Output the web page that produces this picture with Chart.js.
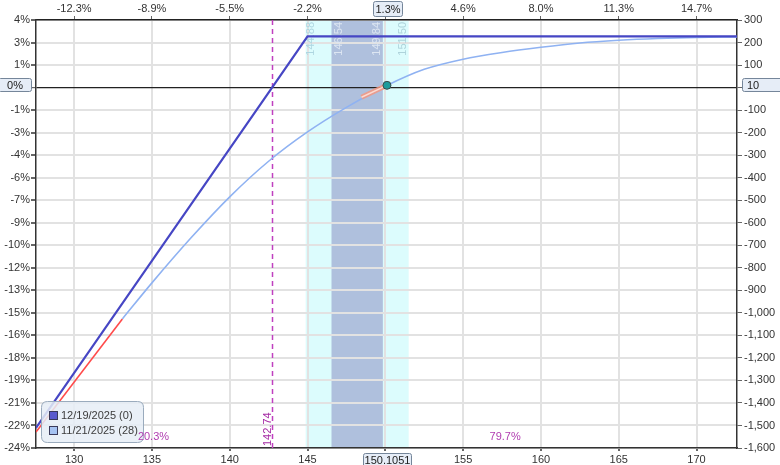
<!DOCTYPE html>
<html lang="en">
<head>
<meta charset="UTF-8">
<meta name="viewport" content="width=device-width, initial-scale=1.0">
<script src="https://cdn.jsdelivr.net/npm/chart.js@4.4.1/dist/chart.umd.min.js"></script>
<title>Risk graph</title>
<style>
  body { margin: 0; background: #fff; }
  canvas { display: block; }
</style>
</head>
<body>
<canvas id="risk-chart" width="780" height="465"></canvas>

<script>

// axis ticks
var xTicks = [130, 135, 140, 145, 150, 155, 160, 165, 170];
var topTickLabels = ['-12.3%', '-8.9%', '-5.5%', '-2.2%', '1.2%', '4.6%', '8.0%', '11.3%', '14.7%'];
var yTicks = [300, 200, 100, 0, -100, -200, -300, -400, -500, -600, -700, -800, -900, -1000, -1100, -1200, -1300, -1400, -1500, -1600];
var pctTickLabels = ['4%', '3%', '1%', '0%', '-1%', '-3%', '-4%', '-6%', '-7%', '-9%', '-10%', '-12%', '-13%', '-15%', '-16%', '-18%', '-19%', '-21%', '-22%', '-24%'];

// expiration line 12/19/2025
var expPrices = [127.55, 142.72, 145.0, 172.6];
var expPnl = [-1511, 0, 227, 227];

// T+0 line 11/21/2025
var t0Prices = [133.1, 135, 137.5, 140, 142.5, 145, 147.5, 150, 152.5, 155, 157.5, 160, 162.5, 165, 167.5, 170, 172.6];
var t0Pnl = [-1027, -867, -668, -485, -327, -197, -88, 6, 81, 126, 156, 179, 198, 210, 218, 223, 225];

// lower part of T+0 shown red
var lowPrices = [127.55, 133.1];
var lowPnl = [-1529, -1027];

// slope marker at current price
var slopePrices = [148.47, 150.1051];
var slopePnl = [-43, 10];

var legendLabels = ['12/19/2025 (0)', '11/21/2025 (28)'];
var currentPrice = 150.1051;
var currentPnl = 10;
var currentMove = '1.3%';
var currentPct = '0%';
var breakEven = 142.74;
var bandOuter = [144.88, 151.50];
var bandInner = [146.54, 149.84];
var probLabels = ['20.3%', '79.7%'];

var xMin = 127.55, xMax = 172.6;
var yMin = -1600, yMax = 300;

var FONT = 'Liberation Sans, Arial, sans-serif';

function pts(xs, ys) {
    return xs.map(function (v, i) { return { x: v, y: ys[i] }; });
}

function roundBox(c, x, y, w, h, r) {
    c.beginPath();
    c.moveTo(x + r, y);
    c.lineTo(x + w - r, y);
    c.quadraticCurveTo(x + w, y, x + w, y + r);
    c.lineTo(x + w, y + h - r);
    c.quadraticCurveTo(x + w, y + h, x + w - r, y + h);
    c.lineTo(x + r, y + h);
    c.quadraticCurveTo(x, y + h, x, y + h - r);
    c.lineTo(x, y + r);
    c.quadraticCurveTo(x, y, x + r, y);
    c.closePath();
}

function tagBox(c, x, y, w, h, text, align) {
    c.fillStyle = '#e6edf7';
    c.strokeStyle = '#75869a';
    c.lineWidth = 1;
    roundBox(c, x + 0.5, y + 0.5, w, h, 2);
    c.fill();
    c.stroke();
    c.fillStyle = '#222';
    c.textBaseline = 'middle';
    c.textAlign = align || 'center';
    var tx = align === 'left' ? x + 5 : x + w / 2 + 0.5;
    c.fillText(text, tx, y + h / 2 + 1);
}

var overlay = {
    id: 'overlay',
    beforeDraw: function (chart) {
        var c = chart.ctx, a = chart.chartArea, sx = chart.scales.x;
        c.save();
        var o0 = sx.getPixelForValue(bandOuter[0]), o1 = sx.getPixelForValue(bandOuter[1]);
        var i0 = sx.getPixelForValue(bandInner[0]), i1 = sx.getPixelForValue(bandInner[1]);
        c.fillStyle = '#dcfcfd';
        c.fillRect(o0, a.top, o1 - o0, a.bottom - a.top);
        c.fillStyle = '#afc0dd';
        c.fillRect(i0, a.top, i1 - i0, a.bottom - a.top);
        c.restore();
    },
    beforeDatasetsDraw: function (chart) {
        var c = chart.ctx, a = chart.chartArea, sx = chart.scales.x;
        c.save();
        // breakeven
        var bx = Math.round(sx.getPixelForValue(breakEven)) + 0.5;
        c.strokeStyle = '#c040c0';
        c.lineWidth = 1.5;
        c.setLineDash([5, 4]);
        c.beginPath();
        c.moveTo(bx, a.top);
        c.lineTo(bx, a.bottom);
        c.stroke();
        c.setLineDash([]);

        c.font = '11px ' + FONT;
        c.textBaseline = 'middle';

        c.fillStyle = '#a52ca5';
        c.save();
        c.translate(bx - 4.5, a.bottom - 2);
        c.rotate(-Math.PI / 2);
        c.textAlign = 'left';
        c.fillText(breakEven.toFixed(2), 0, 0);
        c.restore();

        // band edge labels
        var bandLabels = [
            [bandOuter[0], 5, '#aed6e1'],
            [bandInner[0], 7, '#dde6f2'],
            [bandInner[1], -6, '#dde6f2'],
            [bandOuter[1], -6, '#aed3db']
        ];
        bandLabels.forEach(function (b) {
            c.save();
            c.fillStyle = b[2];
            c.translate(sx.getPixelForValue(b[0]) + b[1], a.top + 2);
            c.rotate(-Math.PI / 2);
            c.textAlign = 'right';
            c.fillText(b[0].toFixed(2), 0, 0);
            c.restore();
        });
        c.restore();
    },
    afterDraw: function (chart) {
        var c = chart.ctx, a = chart.chartArea, sx = chart.scales.x, sy = chart.scales.y;
        c.save();
        c.font = '11px ' + FONT;
        var px = Math.round(sx.getPixelForValue(currentPrice));
        var py = Math.round(sy.getPixelForValue(currentPnl));

        tagBox(c, px - 14, 1, 29, 15, currentMove);
        tagBox(c, px - 24, a.bottom + 5, 48, 14, currentPrice.toFixed(4));
        tagBox(c, -2, py - 7, 33, 13, currentPct, 'center');
        tagBox(c, a.right + 5, py - 7, 40, 13, String(currentPnl), 'left');

        // legend
        c.fillStyle = 'rgba(230,237,246,0.85)';
        c.strokeStyle = '#9aabbd';
        c.lineWidth = 1;
        roundBox(c, 41.5, 401.5, 102, 41, 6);
        c.fill();
        c.stroke();
        var sw = ['#5a5acd', '#a6c3f2'];
        legendLabels.forEach(function (t, i) {
            var ly = 412 + i * 15;
            c.fillStyle = sw[i];
            c.fillRect(50, ly, 7, 7);
            c.strokeStyle = '#3a3a5a';
            c.strokeRect(49.5, ly - 0.5, 8, 8);
            c.fillStyle = '#3c3c3c';
            c.textAlign = 'left';
            c.textBaseline = 'middle';
            c.fillText(t, 61, ly + 4);
        });

        // probabilities
        c.fillStyle = '#b03cb0';
        c.textAlign = 'center';
        c.textBaseline = 'middle';
        c.fillText(probLabels[0], sx.getPixelForValue(135.1), a.bottom - 11);
        c.fillText(probLabels[1], sx.getPixelForValue(157.7), a.bottom - 11);
        c.restore();
    }
};

var tickFont = { family: FONT, size: 11 };

var ctx = document.getElementById('risk-chart').getContext('2d');

var chart = new Chart(ctx, {
    type: 'line',
    data: {
        datasets: [
            {
                data: pts([currentPrice], [currentPnl]),
                showLine: false,
                pointRadius: 4,
                pointBackgroundColor: '#1d9c9c',
                pointBorderColor: '#3c4c4c',
                pointBorderWidth: 1
            },
            {
                data: pts(slopePrices, slopePnl),
                borderColor: 'rgba(255,225,215,0.9)',
                borderWidth: 1.5,
                pointRadius: 0
            },
            {
                data: pts(slopePrices, slopePnl),
                borderColor: 'rgba(244,150,128,0.85)',
                borderWidth: 5,
                pointRadius: 0
            },
            {
                data: pts(expPrices, expPnl),
                borderColor: '#4646c4',
                borderWidth: 2.2,
                pointRadius: 0
            },
            {
                data: pts(t0Prices, t0Pnl),
                borderColor: '#8fb2f2',
                borderWidth: 1.6,
                pointRadius: 0,
                cubicInterpolationMode: 'monotone'
            },
            {
                data: pts(lowPrices, lowPnl),
                borderColor: '#ff4a4a',
                borderWidth: 1.6,
                pointRadius: 0
            }
        ]
    },
    options: {
        responsive: false,
        animation: false,
        layout: { padding: 0 },
        plugins: {
            legend: { display: false },
            tooltip: { enabled: false }
        },
        scales: {
            x: {
                type: 'linear',
                position: 'bottom',
                min: xMin,
                max: xMax,
                afterFit: function (s) { s.height = 17; },
                afterBuildTicks: function (s) { s.ticks = xTicks.map(function (v) { return { value: v }; }); },
                grid: { color: '#e2e2e2', lineWidth: 2, tickLength: 3, tickColor: '#666' },
                border: { color: '#333', width: 1.5 },
                ticks: { color: '#333', font: tickFont, padding: 2, maxRotation: 0, autoSkip: false }
            },
            xTop: {
                type: 'linear',
                position: 'top',
                min: xMin,
                max: xMax,
                afterFit: function (s) { s.height = 20; },
                afterBuildTicks: function (s) { s.ticks = xTicks.map(function (v) { return { value: v }; }); },
                grid: { drawOnChartArea: false, tickLength: 4, tickColor: '#666' },
                border: { color: '#222', width: 1.5 },
                ticks: {
                    color: '#333', font: tickFont, padding: 0, maxRotation: 0, autoSkip: false,
                    callback: function (v) { return topTickLabels[xTicks.indexOf(v)]; }
                }
            },
            y: {
                position: 'left',
                min: yMin,
                max: yMax,
                afterFit: function (s) { s.width = 36; },
                afterBuildTicks: function (s) { s.ticks = yTicks.slice().reverse().map(function (v) { return { value: v }; }); },
                grid: {
                    color: function (g) { return g.tick && g.tick.value === 0 ? '#222' : '#e2e2e2'; },
                    lineWidth: function (g) { return g.tick && g.tick.value === 0 ? 1.2 : 2; },
                    tickLength: 5,
                    tickColor: '#666'
                },
                border: { color: '#333', width: 1.5 },
                ticks: {
                    color: '#333', font: tickFont, padding: 1, autoSkip: false,
                    callback: function (v) { return pctTickLabels[yTicks.indexOf(v)]; }
                }
            },
            yRight: {
                position: 'right',
                min: yMin,
                max: yMax,
                afterFit: function (s) { s.width = 43; },
                afterBuildTicks: function (s) { s.ticks = yTicks.slice().reverse().map(function (v) { return { value: v }; }); },
                grid: { drawOnChartArea: false, tickLength: 5, tickColor: '#666' },
                border: { color: '#333', width: 1.5 },
                ticks: {
                    color: '#333', font: tickFont, padding: 2, autoSkip: false,
                    callback: function (v) { return v === 0 ? '' : v.toLocaleString('en-US'); }
                }
            }
        }
    },
    plugins: [overlay]
});

</script>

</body>
</html>
